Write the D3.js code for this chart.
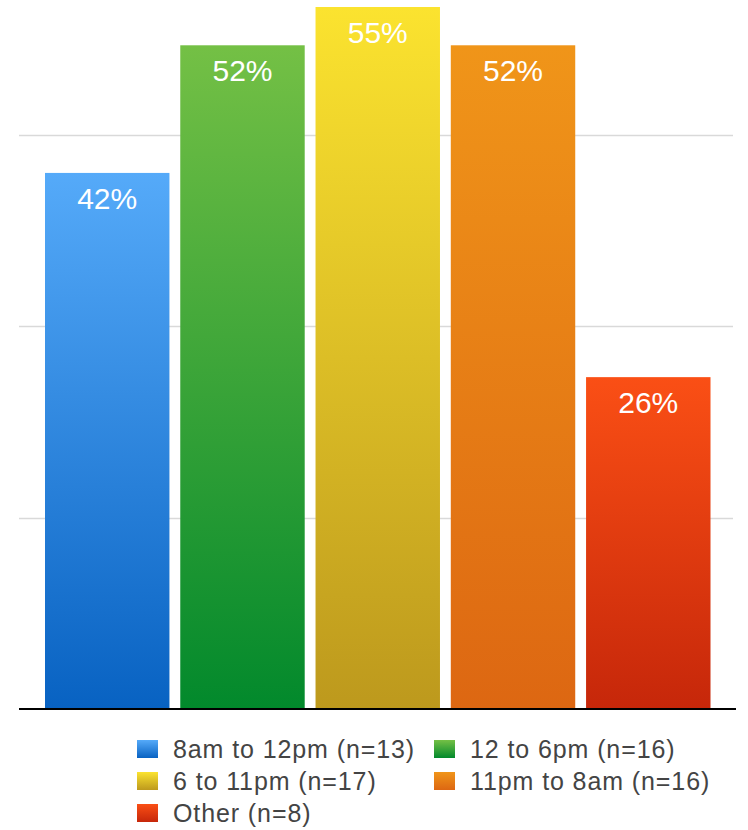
<!DOCTYPE html>
<html>
<head>
<meta charset="utf-8">
<script src="https://cdn.jsdelivr.net/npm/d3@7"></script>
<style>
  html, body { margin: 0; padding: 0; background: #fff; }
  svg { display: block; }
</style>
</head>
<body>
<svg id="chart" width="748" height="830"></svg>
<script>
const categories = ["8am to 12pm (n=13)", "12 to 6pm (n=16)", "6 to 11pm (n=17)", "11pm to 8am (n=16)", "Other (n=8)"];
const values = [42, 52, 55, 52, 26];
const labels = ["42%", "52%", "55%", "52%", "26%"];
const gridTicks = [15, 30, 45];
const topColors = ["#55aaf9", "#74c045", "#fbe32f", "#f09519", "#fa4f15"];
const bottomColors = ["#0862c2", "#02892c", "#bd991d", "#dd6712", "#c6270a"];

const svg = d3.select("#chart");
const defs = svg.append("defs");
categories.forEach((c, i) => {
  const g = defs.append("linearGradient").attr("id", "grad" + i)
    .attr("x1", 0).attr("y1", 0).attr("x2", 0).attr("y2", 1);
  g.append("stop").attr("offset", "0%").attr("stop-color", topColors[i]);
  g.append("stop").attr("offset", "100%").attr("stop-color", bottomColors[i]);
});

const x = d3.scaleBand().domain(categories).range([45, 710.5]).paddingInner(0.08).paddingOuter(0);
const y = d3.scaleLinear().domain([0, 55]).range([709, 7]);

// gridlines
svg.append("g").selectAll("line").data(gridTicks).join("line")
  .attr("x1", 19).attr("x2", 733)
  .attr("y1", d => Math.round(y(d)) + 0.5).attr("y2", d => Math.round(y(d)) + 0.5)
  .attr("stroke", "#d9d9d9").attr("stroke-width", 1.5);

// bars
svg.append("g").selectAll("rect").data(categories).join("rect")
  .attr("x", d => x(d))
  .attr("y", (d, i) => y(values[i]))
  .attr("width", x.bandwidth())
  .attr("height", (d, i) => y(0) - y(values[i]))
  .attr("fill", (d, i) => `url(#grad${i})`);

// value labels
svg.append("g").selectAll("text").data(categories).join("text")
  .attr("x", d => x(d) + x.bandwidth() / 2)
  .attr("y", (d, i) => y(values[i]) + 36)
  .attr("text-anchor", "middle")
  .attr("fill", "#fff")
  .style("font-family", "'Liberation Sans', Arial, Helvetica, sans-serif")
  .style("font-size", "30px")
  .text((d, i) => labels[i]);

// baseline axis
svg.append("line")
  .attr("x1", 19).attr("x2", 736)
  .attr("y1", y(0)).attr("y2", y(0))
  .attr("stroke", "#000").attr("stroke-width", 2);

// legend
const legendPos = [
  [137, 749], [434, 749],
  [137, 781], [434, 781],
  [137, 813]
];
const lg = svg.append("g").selectAll("g").data(categories).join("g")
  .attr("transform", (d, i) => `translate(${legendPos[i][0]},${legendPos[i][1]})`);
lg.append("rect")
  .attr("x", 0).attr("y", -9).attr("width", 21).attr("height", 18)
  .attr("fill", (d, i) => `url(#grad${i})`);
lg.append("text")
  .attr("x", 36).attr("y", 0).attr("dy", "0.35em")
  .attr("fill", "#444")
  .style("font-family", "'Liberation Sans', Arial, Helvetica, sans-serif")
  .style("font-size", "25px")
  .style("letter-spacing", "0.9px")
  .text(d => d);
</script>
</body>
</html>
